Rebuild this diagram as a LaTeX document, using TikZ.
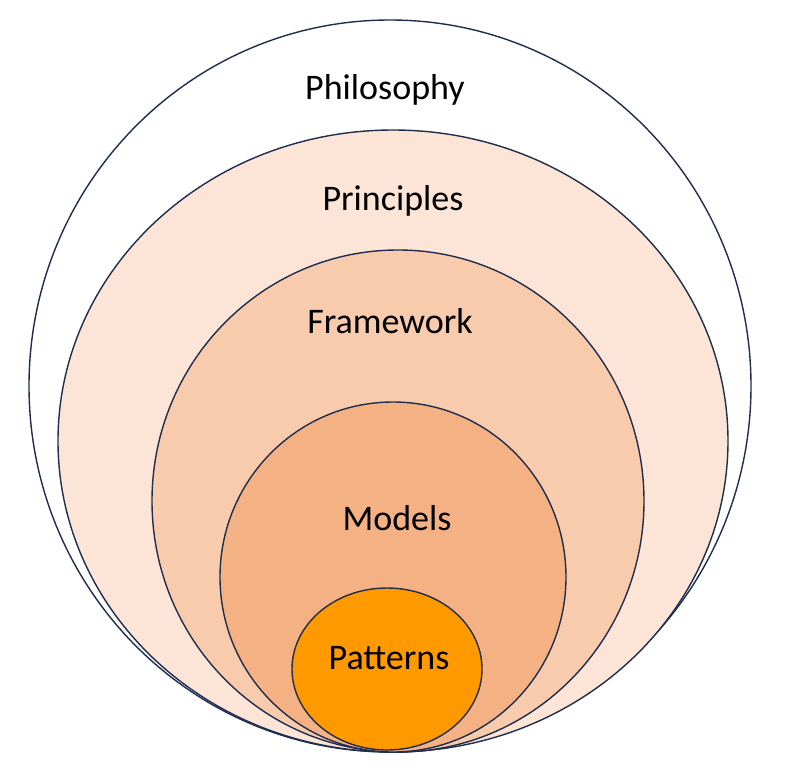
\documentclass[tikz,border=0pt]{standalone}
\usepackage{fontspec}
\setmainfont{Carlito}
\definecolor{edge}{HTML}{1F2D4E}
\definecolor{cA}{HTML}{FCE4D6}
\definecolor{cB}{HTML}{F8CBAD}
\definecolor{cC}{HTML}{F4B183}
\definecolor{cD}{HTML}{FF9900}
\begin{document}
\begin{tikzpicture}[x=1pt,y=-1pt,
  ring/.style={draw=edge,line width=1.4pt},
  lbl/.style={font=\fontsize{36}{40}\selectfont,text=black}]
\useasboundingbox[fill=white] (0,0) rectangle (788,784);
\draw[ring,fill=white] (390,386) ellipse [x radius=361,y radius=366];
\draw[ring,fill=cA] (393,441) ellipse [x radius=335,y radius=311];
\draw[ring,fill=cB] (398,501) ellipse [x radius=246,y radius=251];
\draw[ring,fill=cC] (393,577) ellipse [x radius=173,y radius=175];
\draw[ring,fill=cD] (387,669) ellipse [x radius=95,y radius=81];
\node[lbl] (t1) at (385,90) {Philosophy};
\node[lbl] (t2) at (393,201) {Principles};
\node[lbl] (t3) at (390,321) {Framework};
\node[lbl] (t4) at (397,518) {Models};
\node[lbl] (t5) at (389,658) {Patterns};
\end{tikzpicture}
\end{document}
